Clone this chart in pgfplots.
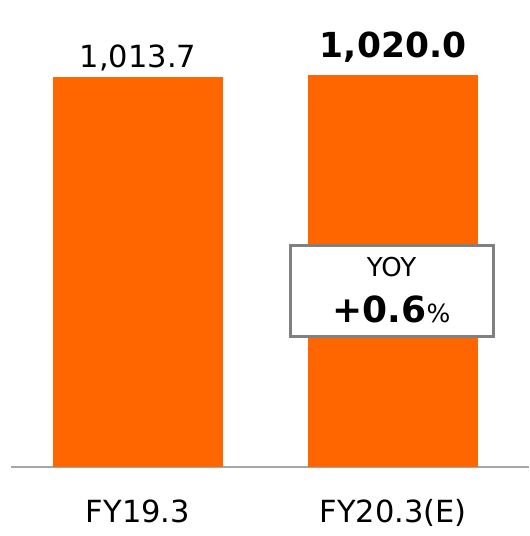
\documentclass[border=0pt]{standalone}
\usepackage{fontspec}
\setmainfont{DejaVu Sans}
\usepackage{pgfplots}
\pgfplotsset{compat=1.18}
\definecolor{barorange}{HTML}{FF6600}
\definecolor{axgray}{HTML}{A6A6A6}
\definecolor{boxgray}{HTML}{808080}
\begin{document}
\begin{tikzpicture}[x=1pt,y=1pt]
\begin{axis}[
  scale only axis,
  width=518pt, height=467pt,
  xmin=-0.498, xmax=1.533,
  ymin=0, ymax=1214,
  axis x line*=bottom,
  axis y line=none,
  x axis line style={draw=axgray, line width=1.5pt, -},
  xtick={0,1},
  xticklabels={FY19.3,FY20.3(E)},
  xtick style={draw=none},
  ytick=\empty,
  x tick label style={font=\fontsize{30.5}{34}\selectfont, yshift=-25pt},
  bar width=170pt,
  ybar, bar shift=0pt,
  clip=false,
  /pgf/number format/assume math mode=true,
]
\addplot[fill=barorange, draw=none,
  nodes near coords,
  every node near coord/.append style={font=\fontsize{30.5}{34}\selectfont, yshift=2pt},
  /pgf/number format/.cd, fixed, fixed zerofill, precision=1, 1000 sep={,}
] coordinates {(0,1013.7)};
\addplot[fill=barorange, draw=none,
  nodes near coords,
  every node near coord/.append style={font=\fontsize{34.5}{38}\selectfont\bfseries, yshift=9pt},
  /pgf/number format/.cd, fixed, fixed zerofill, precision=1, 1000 sep={,}
] coordinates {(1,1020.0)};
\node[draw=boxgray, line width=3pt, fill=white, minimum width=203pt, minimum height=91pt, inner sep=0pt] (yb) at (axis cs:0.994,457) {};
\node[font=\fontsize{26}{30}\selectfont] at ([yshift=24pt]yb.center) {YOY};
\node[anchor=base] at ([yshift=-31pt]yb.center) {\fontsize{36}{40}\selectfont\bfseries +0.6\fontsize{25}{30}\selectfont\mdseries\%};
\end{axis}
\path[use as bounding box] (-11pt,-69pt) rectangle (518pt,467pt);
\end{tikzpicture}
\end{document}
